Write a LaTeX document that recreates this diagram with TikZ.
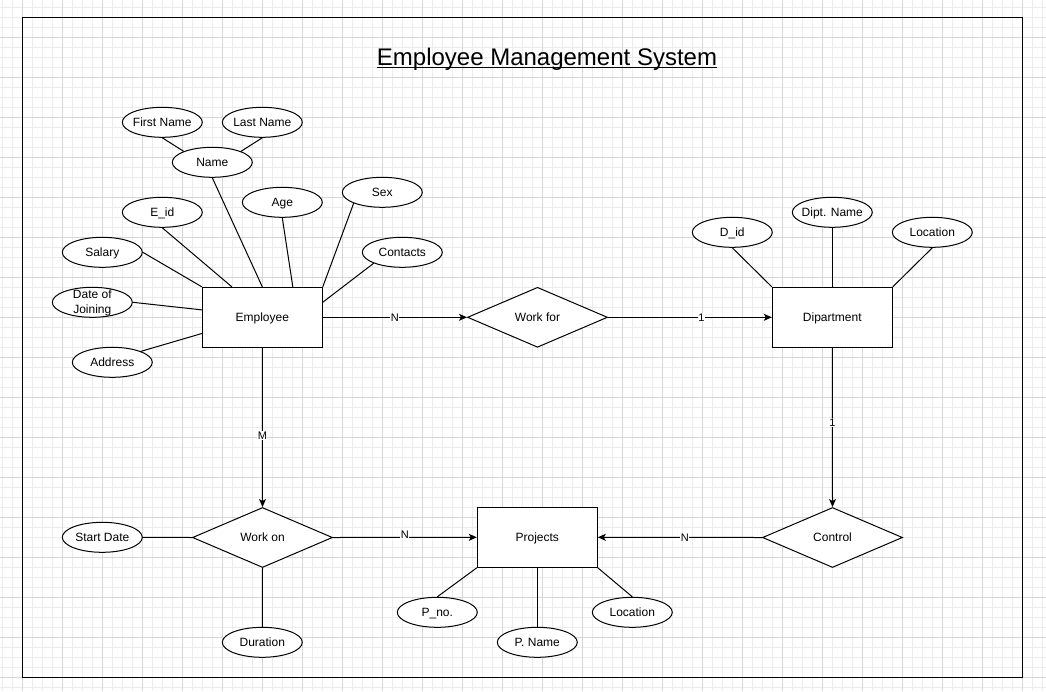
\documentclass[tikz,border=0pt]{standalone}
\usepackage{fontspec}
\setmainfont{Liberation Sans}
\usetikzlibrary{shapes.geometric,arrows.meta,calc}
\definecolor{gridminor}{RGB}{236,236,236}
\definecolor{gridmajor}{RGB}{214,214,214}
\begin{document}
\begin{tikzpicture}[x=1pt,y=-1pt,
  every node/.style={font=\fontsize{12}{14}\selectfont, text=black, text height=8.6pt, text depth=0pt},
  entity/.style={draw, line width=1pt, fill=white, minimum width=120pt, minimum height=60pt, inner sep=0pt},
  attr/.style={draw, ellipse, line width=1pt, fill=white, minimum width=80pt, minimum height=30pt, inner ysep=0pt, inner xsep=-8pt},
  rel/.style={draw, diamond, line width=1pt, fill=white, minimum width=140pt, minimum height=60pt, inner sep=0pt},
  link/.style={line width=1pt},
  arr/.style={line width=1pt, -{Stealth[length=8pt,width=7pt,inset=2pt]}},
  card/.style={font=\fontsize{11}{13}\selectfont, text height=7.9pt, fill=white, inner sep=0.5pt}
]
\useasboundingbox (0,0) rectangle (1046,691);
\fill[white] (0,0) rectangle (1046,691);
% grid
\foreach \x in {2.3,12.3,...,1045} \draw[gridminor, line width=1pt] (\x,0) -- (\x,691);
\foreach \y in {7.3,17.3,...,690} \draw[gridminor, line width=1pt] (0,\y) -- (1046,\y);
\foreach \x in {22.3,62.3,...,1045} \draw[gridmajor, line width=1pt] (\x,0) -- (\x,691);
\foreach \y in {37.3,77.3,...,690} \draw[gridmajor, line width=1pt] (0,\y) -- (1046,\y);
% frame
\draw[line width=1pt] (22.5,17.3) rectangle (1022.5,677);
% title
\node[anchor=base, inner sep=0pt, text height=, text depth=, font=\fontsize{24}{28}\selectfont] (title) at (547,65.5) {Employee Management System};
\draw[line width=1.5pt] ([yshift=-2.2pt]title.base west) -- ([yshift=-2.2pt]title.base east);

% entities
\node[entity] (emp) at (262.3,317.3) {Employee};
\node[entity] (dep) at (832.3,317.3) {Dipartment};
\node[entity] (proj) at (537.3,537.3) {Projects};
% relationships
\node[rel] (wf) at (537.5,317.3) {Work for};
\node[rel] (won) at (262.5,537.5) {Work on};
\node[rel] (ctl) at (832.5,537.5) {Control};
% attributes
\node[attr] (fn) at (162.3,122.3) {First Name};
\node[attr] (ln) at (262.3,122.3) {Last Name};
\node[attr] (nm) at (212.3,162.3) {Name};
\node[attr] (age) at (282.3,202.3) {Age};
\node[attr] (eid) at (162.3,212.3) {E\_id};
\node[attr] (sex) at (382.3,192.3) {Sex};
\node[attr] (sal) at (102.3,252.3) {Salary};
\node[attr] (con) at (402.3,252.3) {Contacts};
\node[attr, text height=0pt] (doj) at (92.3,302.3) {\smash{\raisebox{4pt}{\begin{tabular}[t]{@{}c@{}}Date of\\[1pt]Joining\end{tabular}}}};
\node[attr] (adr) at (112.3,362.3) {Address};
\node[attr] (did) at (732.3,232.3) {D\_id};
\node[attr] (dnm) at (832.3,212.3) {Dipt. Name};
\node[attr] (dloc) at (932.3,232.3) {Location};
\node[attr] (sd) at (102.3,537.3) {Start Date};
\node[attr] (dur) at (262.3,642.3) {Duration};
\node[attr] (pno) at (437.3,612.3) {P\_no.};
\node[attr] (pnm) at (537.3,642.3) {P. Name};
\node[attr] (ploc) at (632.3,612.3) {Location};

% attribute links
\draw[link] (fn.south) -- (nm.north west);
\draw[link] (ln.south) -- (nm.north east);
\draw[link] (nm.south) -- (emp.north);
\draw[link] (eid.south) -- (emp.135);
\draw[link] (age.south) -- (emp.45);
\draw[link] (sex.south west) -- (emp.north east);
\draw[link] (con.south west) -- (emp.14);
\draw[link] (sal.east) -- (emp.north west);
\draw[link] (doj.east) -- (emp.173);
\draw[link] (adr.north east) -- (emp.195);
\draw[link] (did.south) -- (dep.north west);
\draw[link] (dnm.south) -- (dep.north);
\draw[link] (dloc.south) -- (dep.north east);
\draw[link] (sd.east) -- (won.west);
\draw[link] (dur.north) -- (won.south);
\draw[link] (pno.north) -- (proj.south west);
\draw[link] (pnm.north) -- (proj.south);
\draw[link] (ploc.north) -- (proj.south east);

% relationship arrows
\draw[arr] (emp.east) -- node[card, pos=0.5] {N} (wf.west);
\draw[arr] (wf.east) -- node[card, pos=0.57] {1} (dep.west);
\draw[arr] (dep.south) -- node[card, pos=0.47] {1} (ctl.north);
\draw[arr] (ctl.west) -- node[card, pos=0.47] {N} (proj.east);
\draw[arr] (emp.south) -- node[card, pos=0.55] {M} (won.north);
\draw[arr] (won.east) -- node[card, pos=0.5, yshift=3pt] {N} (proj.west);
\end{tikzpicture}
\end{document}
